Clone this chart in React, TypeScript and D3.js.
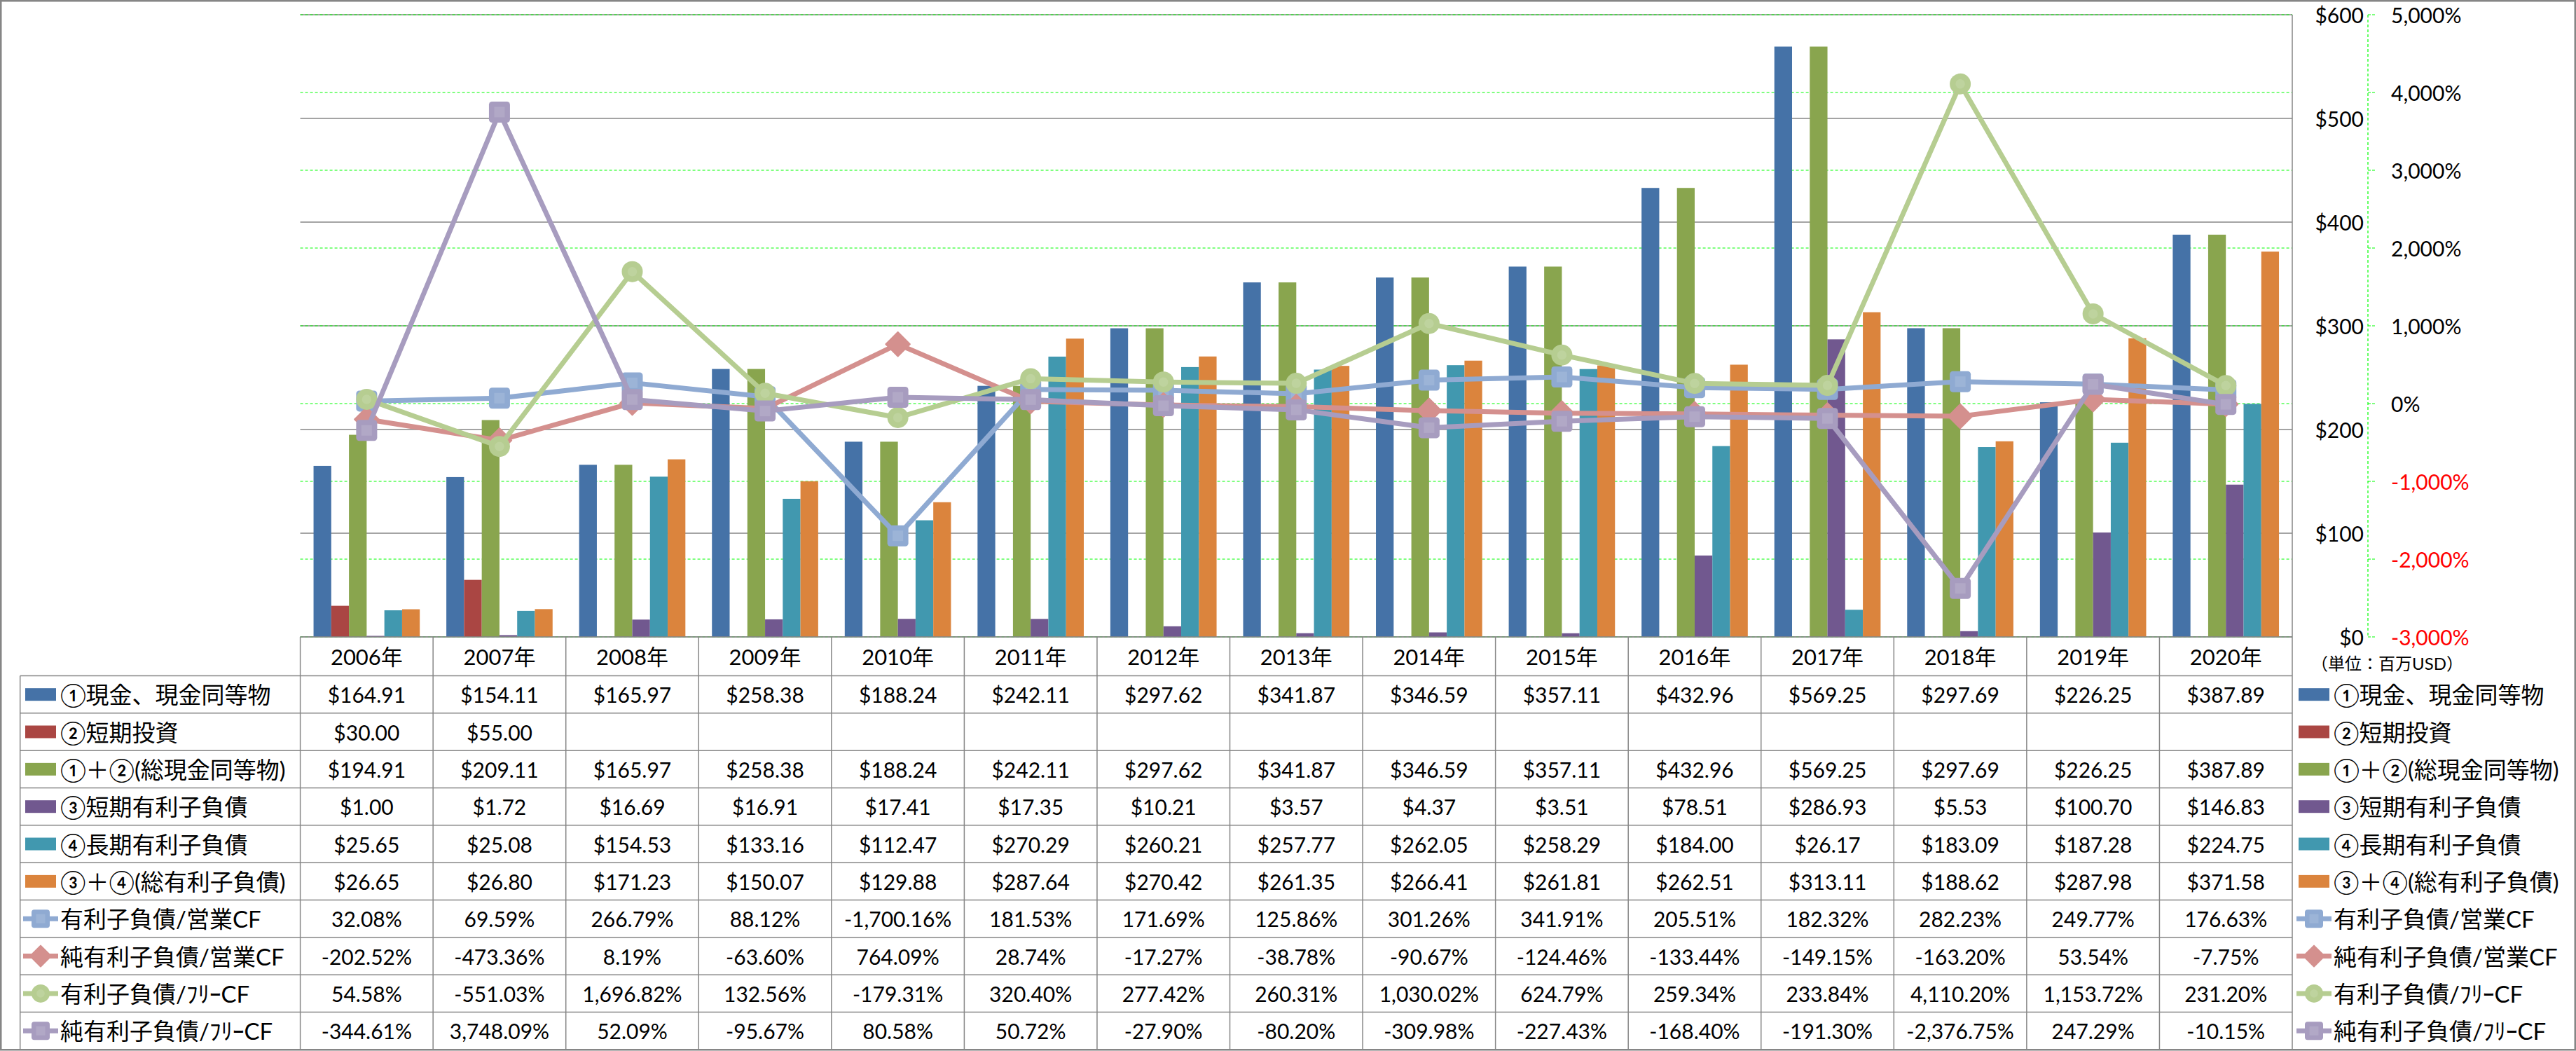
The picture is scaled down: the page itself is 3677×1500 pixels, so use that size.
import React from 'react';
import * as d3 from 'd3';

const years = ['2006年','2007年','2008年','2009年','2010年','2011年','2012年','2013年','2014年','2015年','2016年','2017年','2018年','2019年','2020年'];
const cash = [164.91,154.11,165.97,258.38,188.24,242.11,297.62,341.87,346.59,357.11,432.96,569.25,297.69,226.25,387.89];
const shortInv: (number|null)[] = [30.00,55.00,null,null,null,null,null,null,null,null,null,null,null,null,null];
const totalCash = [194.91,209.11,165.97,258.38,188.24,242.11,297.62,341.87,346.59,357.11,432.96,569.25,297.69,226.25,387.89];
const shortDebt = [1.00,1.72,16.69,16.91,17.41,17.35,10.21,3.57,4.37,3.51,78.51,286.93,5.53,100.70,146.83];
const longDebt = [25.65,25.08,154.53,133.16,112.47,270.29,260.21,257.77,262.05,258.29,184.00,26.17,183.09,187.28,224.75];
const totalDebt = [26.65,26.80,171.23,150.07,129.88,287.64,270.42,261.35,266.41,261.81,262.51,313.11,188.62,287.98,371.58];
const debtOpCF = [32.08,69.59,266.79,88.12,-1700.16,181.53,171.69,125.86,301.26,341.91,205.51,182.32,282.23,249.77,176.63];
const netDebtOpCF = [-202.52,-473.36,8.19,-63.60,764.09,28.74,-17.27,-38.78,-90.67,-124.46,-133.44,-149.15,-163.20,53.54,-7.75];
const debtFreeCF = [54.58,-551.03,1696.82,132.56,-179.31,320.40,277.42,260.31,1030.02,624.79,259.34,233.84,4110.20,1153.72,231.20];
const netDebtFreeCF = [-344.61,3748.09,52.09,-95.67,80.58,50.72,-27.90,-80.20,-309.98,-227.43,-168.40,-191.30,-2376.75,247.29,-10.15];
const leftTicks = [0,100,200,300,400,500,600];
const rightTicks = [-3000,-2000,-1000,0,1000,2000,3000,4000,5000];

const barNames = ['①現金、現金同等物','②短期投資','①＋②(総現金同等物)','③短期有利子負債','④長期有利子負債','③＋④(総有利子負債)'];
const barColors = ['#4572A7','#AA4643','#89A54E','#71588F','#4198AF','#DB843D'];
const lineNames = ['有利子負債/営業CF','純有利子負債/営業CF','有利子負債/ﾌﾘｰCF','純有利子負債/ﾌﾘｰCF'];
const lineColors = ['#8FAAD2','#D4908E','#B6CD91','#A79CBF'];
const markerTypes = ['square','diamond','circle','square'];

const W = 3677, H = 1500;
const plotL = 428.6, plotR = 3272, plotT = 21, plotB = 909;
const tableL = 28.7, rowTop = 964.5, rowH = 53.34;

const loc = d3.formatLocale({decimal: '.', thousands: ',', grouping: [3], currency: ['$', ''], minus: '-'});
const fmtMoney = loc.format('$,.2f');
const fmtPct = (v: number) => loc.format(',.2f')(v) + '%';
const fmtAxisL = loc.format('$,.0f');
const fmtAxisR = (v: number) => loc.format(',.0f')(v) + '%';

const numFont = "Lato, 'Noto Sans CJK JP', sans-serif";
const lblFont = "Lato, 'Noto Sans CJK JP', sans-serif";

function Marker({type, cx, cy, color, s}: {type: string; cx: number; cy: number; color: string; s: number}) {
  const h = s / 2;
  if (type === 'circle') {
    return <g><circle cx={cx} cy={cy} r={h} fill={color} /><circle cx={cx} cy={cy} r={h * 0.45} fill="#fff" opacity={0.12} /></g>;
  }
  if (type === 'diamond') {
    const d = h * 1.15;
    return <g><path d={`M${cx},${cy - d}L${cx + d},${cy}L${cx},${cy + d}L${cx - d},${cy}Z`} fill={color} stroke={color} strokeWidth={2} strokeLinejoin="round" /></g>;
  }
  return <g><rect x={cx - h} y={cy - h} width={s} height={s} rx={s * 0.15} fill={color} /><rect x={cx - h * 0.5} y={cy - h * 0.5} width={h} height={h} fill="#fff" opacity={0.12} /></g>;
}

export default function App() {
  const bars = [cash, shortInv, totalCash, shortDebt, longDebt, totalDebt];
  const lines = [debtOpCF, netDebtOpCF, debtFreeCF, netDebtFreeCF];
  const x = d3.scaleBand<string>().domain(years).range([plotL, plotR]).paddingInner(0).paddingOuter(0);
  const bw = x.bandwidth();
  const x1 = d3.scaleBand<number>().domain(d3.range(6)).range([0, bw]).paddingInner(0).paddingOuter(0.75);
  const y = d3.scaleLinear().domain([0, 600]).range([plotB, plotT]);
  const y2 = d3.scaleLinear().domain([-3000, 5000]).range([plotB, plotT]);
  const cx = (i: number) => (x(years[i]) as number) + bw / 2;
  const lineGen = d3.line<number>().x((_, i) => cx(i)).y(d => y2(d));

  const rowsText: string[][] = [
    ...bars.map(arr => arr.map(v => (v == null ? '' : fmtMoney(v as number)))),
    ...lines.map(arr => arr.map(v => fmtPct(v))),
  ];
  const rowCenter = (r: number) => rowTop + r * rowH + rowH / 2;
  const gray = '#868686';

  const legendIcon = (r: number, xs: number) => {
    const cy = rowCenter(r);
    if (r < 6) {
      return <rect x={xs} y={cy - 9} width={44} height={18} fill={barColors[r]} />;
    }
    const k = r - 6;
    return <g>
      <line x1={xs - 3} x2={xs + 47} y1={cy} y2={cy} stroke={lineColors[k]} strokeWidth={7} />
      <Marker type={markerTypes[k]} cx={xs + 22} cy={cy} color={lineColors[k]} s={26} />
    </g>;
  };

  return (
    <div style={{position: 'absolute', left: 0, top: 0}}>
      <svg width={W} height={H} viewBox={`0 0 ${W} ${H}`} style={{display: 'block', background: '#fff'}}>
        <rect x={0} y={0} width={W} height={H} fill="#fff" />
        {leftTicks.map(t => (
          <line key={'g' + t} x1={plotL} x2={plotR} y1={y(t)} y2={y(t)} stroke={gray} strokeWidth={1.5} />
        ))}
        {rightTicks.map(t => (
          <line key={'g2' + t} x1={plotL} x2={plotR} y1={y2(t)} y2={y2(t)} stroke="#00FF00" strokeWidth={1.2} strokeDasharray="4,3" />
        ))}
        {bars.map((arr, s) => (
          <g key={'b' + s}>
            {arr.map((v, i) => v == null ? null : (
              <rect key={i} x={(x(years[i]) as number) + (x1(s) as number)} y={y(v as number)} width={x1.bandwidth()} height={plotB - y(v as number)} fill={barColors[s]} />
            ))}
          </g>
        ))}
        {lines.map((arr, s) => (
          <g key={'l' + s}>
            <path d={lineGen(arr) as string} fill="none" stroke={lineColors[s]} strokeWidth={7} strokeLinejoin="round" />
            {arr.map((v, i) => <Marker key={i} type={markerTypes[s]} cx={cx(i)} cy={y2(v)} color={lineColors[s]} s={30} />)}
          </g>
        ))}
        <line x1={plotR} x2={plotR} y1={plotT} y2={1498} stroke={gray} strokeWidth={1.5} />
        {leftTicks.map(t => (
          <text key={'lt' + t} x={3374} y={y(t)} textAnchor="end" dominantBaseline="central" fontFamily={numFont} fontSize={30} fill="#000">{fmtAxisL(t)}</text>
        ))}
        <line x1={3380} x2={3380} y1={plotT} y2={plotB} stroke="#00FF00" strokeWidth={1.2} strokeDasharray="4,3" />
        {rightTicks.map(t => (
          <g key={'rt' + t}>
            <line x1={3380} x2={3391} y1={y2(t)} y2={y2(t)} stroke="#00FF00" strokeWidth={1.2} strokeDasharray="4,2" />
            <text x={3413} y={y2(t)} dominantBaseline="central" fontFamily={numFont} fontSize={30} fill={t < 0 ? '#FF0000' : '#000'}>{fmtAxisR(t)}</text>
          </g>
        ))}
        <text x={3299} y={946} dominantBaseline="central" fontFamily={lblFont} fontSize={24} fill="#000">（単位：百万USD）</text>
        <line x1={plotL} x2={plotR} y1={plotB} y2={plotB} stroke={gray} strokeWidth={1.5} />
        {d3.range(11).map(r => (
          <line key={'h' + r} x1={tableL} x2={plotR} y1={rowTop + r * rowH} y2={rowTop + r * rowH} stroke={gray} strokeWidth={1.5} />
        ))}
        <line x1={tableL} x2={tableL} y1={rowTop} y2={rowTop + 10 * rowH} stroke={gray} strokeWidth={1.5} />
        {years.map((yr, i) => (
          <line key={'v' + i} x1={x(yr) as number} x2={x(yr) as number} y1={plotB} y2={rowTop + 10 * rowH} stroke={gray} strokeWidth={1.5} />
        ))}
        {years.map((yr, i) => (
          <text key={'yr' + i} x={cx(i)} y={937} textAnchor="middle" dominantBaseline="central" fontFamily={numFont} fontSize={31} fill="#000">{yr}</text>
        ))}
        {rowsText.map((row, r) => (
          <g key={'r' + r}>
            {legendIcon(r, 36)}
            <text x={86} y={rowCenter(r)} dominantBaseline="central" fontFamily={lblFont} fontSize={33} fill="#000">{r < 6 ? barNames[r] : lineNames[r - 6]}</text>
            {row.map((t, i) => (
              <text key={i} x={cx(i)} y={rowCenter(r)} textAnchor="middle" dominantBaseline="central" fontFamily={numFont} fontSize={30} fill="#000">{t}</text>
            ))}
            {legendIcon(r, 3281)}
            <text x={3331} y={rowCenter(r)} dominantBaseline="central" fontFamily={lblFont} fontSize={33} fill="#000">{r < 6 ? barNames[r] : lineNames[r - 6]}</text>
          </g>
        ))}
        <rect x={1.25} y={1.25} width={W - 2.5} height={1497} fill="none" stroke={gray} strokeWidth={2.5} />
      </svg>
    </div>
  );
}
